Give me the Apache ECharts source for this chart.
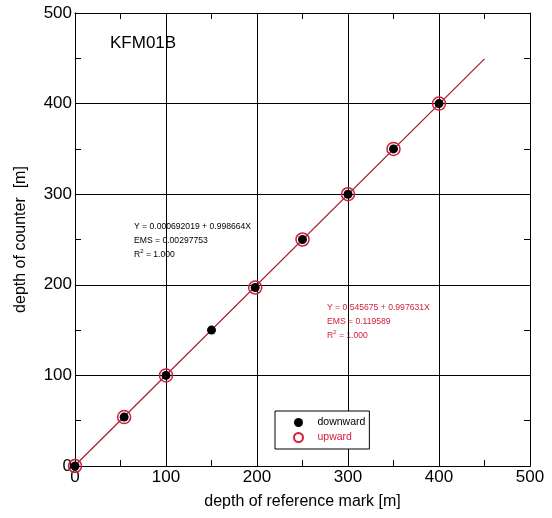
<!DOCTYPE html>
<html><head><meta charset="utf-8">
<script src="https://cdn.jsdelivr.net/npm/echarts@6/dist/echarts.min.js"></script>
<style>html,body{margin:0;padding:0;background:#fff}#c{width:552px;height:518px}</style>
</head><body><div id="c"></div>
<script>
const xTicks = [0, 100, 200, 300, 400, 500];
const yTicks = [0, 100, 200, 300, 400, 500];
const downX = [0, 54, 100, 150, 198, 250, 300, 350, 400];
const downY = [0, 54, 100, 150, 197, 250, 300, 350, 400];
const upX = [0, 54, 100, 198, 250, 300, 350, 400];
const upY = [0, 54, 100, 197, 250, 300, 350, 400];
const fitX = [0, 450];
const fitY = [0.5, 449.4];
const eqDown = ['Y = 0.000692019 + 0.998664X', 'EMS = 0.00297753', 'R{s|2} = 1.000'];
const eqUp = ['Y = 0.545675 + 0.997631X', 'EMS = 0.119589', 'R{s|2} = 1.000'];
const label = 'KFM01B';

const FONT = 'Liberation Sans, Arial, Helvetica, sans-serif';
const chart = echarts.init(document.getElementById('c'), null, {renderer: 'canvas'});
const tickAxis = (pos) => ({
  type: 'value', min: 0, max: 500, interval: 50, position: pos, offset: 0,
  axisLine: {show: true, onZero: false, lineStyle: {color: '#000', width: 1}},
  axisTick: {show: true, inside: true, length: 6, lineStyle: {color: '#000'}},
  axisLabel: {show: false}, splitLine: {show: false}
});
const zip = (a, b) => a.map((v, i) => [v, b[i]]);
chart.setOption({
  animation: false,
  backgroundColor: '#fff',
  grid: {left: 75, right: 22, top: 13, bottom: 52, containLabel: false},
  xAxis: [
    {
      type: 'value', min: xTicks[0], max: xTicks[xTicks.length - 1], interval: 100, position: 'bottom',
      name: 'depth of reference mark [m]', nameLocation: 'middle', nameGap: 28,
      nameTextStyle: {fontFamily: FONT, fontSize: 16, color: '#000'},
      axisLine: {show: true, onZero: false, lineStyle: {color: '#000', width: 1}},
      axisTick: {show: false},
      axisLabel: {fontFamily: FONT, fontSize: 17, color: '#000', margin: 3},
      splitLine: {show: true, lineStyle: {color: '#000', width: 1}}
    },
    tickAxis('bottom'),
    tickAxis('top')
  ],
  yAxis: [
    {
      type: 'value', min: yTicks[0], max: yTicks[yTicks.length - 1], interval: 100, position: 'left',
      name: 'depth of counter  [m]', nameLocation: 'middle', nameGap: 46,
      nameTextStyle: {fontFamily: FONT, fontSize: 16, color: '#000'},
      axisLine: {show: true, onZero: false, lineStyle: {color: '#000', width: 1}},
      axisTick: {show: false},
      axisLabel: {fontFamily: FONT, fontSize: 17, color: '#000', margin: 3},
      splitLine: {show: true, lineStyle: {color: '#000', width: 1}}
    },
    tickAxis('left'),
    tickAxis('right')
  ],
  legend: {
    orient: 'vertical', left: 275, top: 411,
    padding: [6, 4, 6, 18], itemGap: 4, itemWidth: 10, itemHeight: 9,
    borderColor: '#000', borderWidth: 1, backgroundColor: '#fff',
    textStyle: {fontFamily: FONT, fontSize: 10.5, color: '#000', padding: [0, 0, 0, 9]},
    data: [
      {name: 'downward', icon: 'circle'},
      {name: 'upward', icon: 'circle', textStyle: {color: '#d0203a'}}
    ]
  },
  series: [
    {type: 'line', name: 'fit', data: zip(fitX, fitY), symbol: 'none',
      lineStyle: {color: '#a01c2c', width: 1.2}, z: 2},
    {type: 'scatter', name: 'downward', data: zip(downX, downY), symbol: 'circle', symbolSize: 9,
      itemStyle: {color: '#000', opacity: 1}, z: 3},
    {type: 'scatter', name: 'upward', data: zip(upX, upY), symbol: 'circle', symbolSize: 13,
      itemStyle: {color: 'rgba(255,255,255,0)', borderColor: '#d0203a', borderWidth: 1.5, opacity: 1}, z: 4}
  ],
  graphic: [
    {type: 'text', left: 110, top: 35, style: {text: label, font: '17px ' + FONT, fill: '#000'}},
    {type: 'text', left: 134, top: 220, style: {text: eqDown.join('\n'), font: '8.6px ' + FONT, fill: '#000', lineHeight: 14,
      rich: {s: {fontSize: 6, verticalAlign: 'top', padding: [0, 0, 5, 0]}}}},
    {type: 'text', left: 327, top: 301, style: {text: eqUp.join('\n'), font: '8.6px ' + FONT, fill: '#d0203a', lineHeight: 14,
      rich: {s: {fontSize: 6, verticalAlign: 'top', padding: [0, 0, 5, 0], fill: '#d0203a'}}}}
  ]
});
</script></body></html>
